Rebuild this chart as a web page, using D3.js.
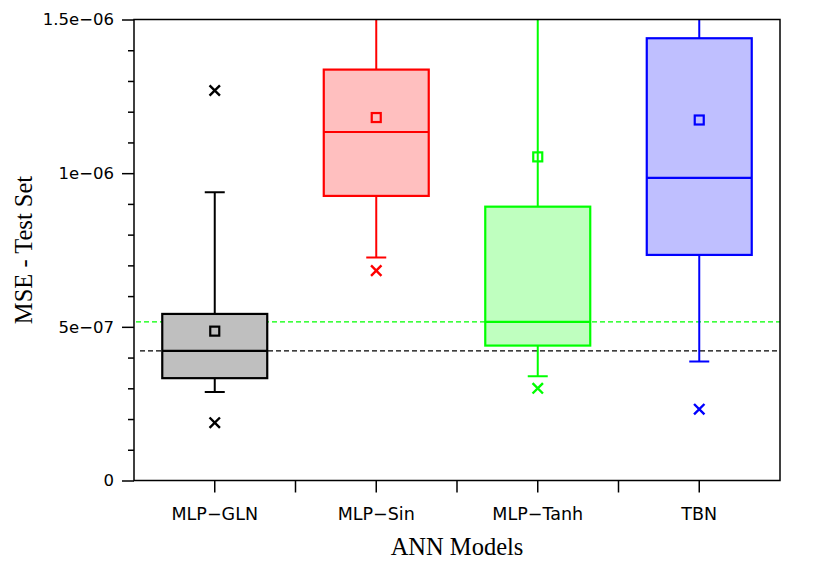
<!DOCTYPE html>
<html>
<head>
<meta charset="utf-8">
<script src="https://cdn.jsdelivr.net/npm/d3@7"></script>
<style>
  body { margin: 0; background: #fff; }
  svg { display: block; }
</style>
</head>
<body>
<svg id="viz" width="830" height="576"></svg>
<script>
// data
const models = ["MLP\u2212GLN", "MLP\u2212Sin", "MLP\u2212Tanh", "TBN"];
const q1 = [3.33e-7, 9.26e-7, 4.39e-7, 7.34e-7];
const medians = [4.22e-7, 11.34e-7, 5.16e-7, 9.85e-7];
const q3 = [5.42e-7, 13.37e-7, 8.91e-7, 14.39e-7];
const whiskLow = [2.88e-7, 7.26e-7, 3.39e-7, 3.87e-7];
const whiskHigh = [9.38e-7, 16.5e-7, 17.0e-7, 16.8e-7];
const means = [4.86e-7, 11.81e-7, 10.53e-7, 11.73e-7];
const outliers = [[1.88e-7, 12.69e-7], [6.83e-7], [3.00e-7], [2.32e-7]];
const refLines = [4.22e-7, 5.16e-7];
const yMajor = [0, 5e-7, 1e-6, 1.5e-6];
const yMajorLabels = ["0", "5e\u221207", "1e\u221206", "1.5e\u221206"];
const yMinor = [1e-7, 2e-7, 3e-7, 4e-7, 6e-7, 7e-7, 8e-7, 9e-7, 1.1e-6, 1.2e-6, 1.3e-6, 1.4e-6];

const strokeCols = ["#000000", "#ff0000", "#00ff00", "#0000ff"];
const fillCols = ["#bfbfbf", "#ffbfbf", "#bfffbf", "#bfbfff"];
const refCols = ["#000000", "#00ff00"];

const svg = d3.select("#viz");
const margin = { left: 134, right: 50, top: 19.5, bottom: 95.5 };
const width = 830, height = 576;
const iw = width - margin.left - margin.right;
const ih = height - margin.top - margin.bottom;

const x = d3.scaleBand().domain(models).range([0, iw]).padding(0);
const y = d3.scaleLinear().domain([0, 1.5e-6]).range([ih, 0]);

const g = svg.append("g").attr("transform", `translate(${margin.left},${margin.top})`);

svg.append("defs").append("clipPath").attr("id", "clip")
  .append("rect").attr("width", iw).attr("height", ih);

const plot = g.append("g").attr("clip-path", "url(#clip)");

// reference dashed lines
plot.selectAll("line.ref")
  .data(refLines)
  .enter()
  .append("line")
  .attr("class", "ref")
  .attr("x1", (d, i) => i === 0 ? 6 : 2)
  .attr("x2", iw)
  .attr("y1", d => y(d))
  .attr("y2", d => y(d))
  .attr("stroke", (d, i) => refCols[i])
  .attr("stroke-width", 1.3)
  .attr("stroke-dasharray", "5,3");

const boxW = x.bandwidth() * 0.65;
const capW = 20;

const boxes = plot.selectAll("g.box")
  .data(models)
  .enter()
  .append("g")
  .attr("class", "box")
  .attr("transform", d => `translate(${x(d) + x.bandwidth() / 2},0)`);

// whiskers
boxes.append("line")
  .attr("x1", 0).attr("x2", 0)
  .attr("y1", (d, i) => y(q3[i]))
  .attr("y2", (d, i) => y(whiskHigh[i]))
  .attr("stroke", (d, i) => strokeCols[i])
  .attr("stroke-width", 2);
boxes.append("line")
  .attr("x1", 0).attr("x2", 0)
  .attr("y1", (d, i) => y(q1[i]))
  .attr("y2", (d, i) => y(whiskLow[i]))
  .attr("stroke", (d, i) => strokeCols[i])
  .attr("stroke-width", 2);
boxes.append("line")
  .attr("x1", -capW / 2).attr("x2", capW / 2)
  .attr("y1", (d, i) => y(whiskLow[i]))
  .attr("y2", (d, i) => y(whiskLow[i]))
  .attr("stroke", (d, i) => strokeCols[i])
  .attr("stroke-width", 2);
boxes.append("line")
  .attr("x1", -capW / 2).attr("x2", capW / 2)
  .attr("y1", (d, i) => y(whiskHigh[i]))
  .attr("y2", (d, i) => y(whiskHigh[i]))
  .attr("stroke", (d, i) => strokeCols[i])
  .attr("stroke-width", 2);

// boxes
boxes.append("rect")
  .attr("x", -boxW / 2)
  .attr("width", boxW)
  .attr("y", (d, i) => y(q3[i]))
  .attr("height", (d, i) => y(q1[i]) - y(q3[i]))
  .attr("fill", (d, i) => fillCols[i])
  .attr("stroke", (d, i) => strokeCols[i])
  .attr("stroke-width", 2.2);

// medians
boxes.append("line")
  .attr("x1", -boxW / 2).attr("x2", boxW / 2)
  .attr("y1", (d, i) => y(medians[i]))
  .attr("y2", (d, i) => y(medians[i]))
  .attr("stroke", (d, i) => strokeCols[i])
  .attr("stroke-width", 2.2);

// means
boxes.append("rect")
  .attr("x", -4.5)
  .attr("y", (d, i) => y(means[i]) - 4.5)
  .attr("width", 9)
  .attr("height", 9)
  .attr("fill", "none")
  .attr("stroke", (d, i) => strokeCols[i])
  .attr("stroke-width", 2.2);

// outliers as crosses
boxes.each(function (d, i) {
  const s = 5.2;
  d3.select(this).selectAll("path.out")
    .data(outliers[i])
    .enter()
    .append("path")
    .attr("class", "out")
    .attr("d", v => `M${-s},${y(v) - s}L${s},${y(v) + s}M${-s},${y(v) + s}L${s},${y(v) - s}`)
    .attr("stroke", strokeCols[i])
    .attr("stroke-width", 2.4);
});

// frame
g.append("rect")
  .attr("width", iw)
  .attr("height", ih)
  .attr("fill", "none")
  .attr("stroke", "#000")
  .attr("stroke-width", 1.5);

// y axis
const yAxis = g.append("g")
  .call(d3.axisLeft(y).tickValues(yMajor).tickSize(12).tickPadding(8)
    .tickFormat((d, i) => yMajorLabels[i]));
const yMinorAxis = g.append("g")
  .call(d3.axisLeft(y).tickValues(yMinor).tickSize(6).tickFormat(""));
[yAxis, yMinorAxis].forEach(a => {
  a.select(".domain").remove();
  a.selectAll("line").attr("stroke", "#000").attr("stroke-width", 1.5);
});
yAxis.selectAll("text")
  .attr("font-family", "DejaVu Sans, sans-serif")
  .attr("font-size", 16.5)
  .attr("fill", "#000");

// x axis: ticks at centres and between categories
const xTicks = [];
models.forEach((m, i) => {
  xTicks.push(x(m) + x.bandwidth() / 2);
  if (i > 0) xTicks.push(x(m));
});
g.append("g")
  .attr("transform", `translate(0,${ih})`)
  .selectAll("line")
  .data(xTicks)
  .enter()
  .append("line")
  .attr("x1", d => d).attr("x2", d => d)
  .attr("y1", 0).attr("y2", 12)
  .attr("stroke", "#000")
  .attr("stroke-width", 1.5);

g.append("g")
  .selectAll("text")
  .data(models)
  .enter()
  .append("text")
  .attr("x", d => x(d) + x.bandwidth() / 2)
  .attr("y", ih + 39.5)
  .attr("text-anchor", "middle")
  .attr("font-family", "DejaVu Sans, sans-serif")
  .attr("font-size", 17.5)
  .text(d => d);

// axis titles
svg.append("text")
  .attr("x", margin.left + iw / 2)
  .attr("y", 555)
  .attr("text-anchor", "middle")
  .attr("font-family", "Liberation Serif, serif")
  .attr("font-size", 24.5)
  .text("ANN Models");

svg.append("text")
  .attr("transform", `translate(32,${margin.top + ih / 2}) rotate(-90)`)
  .attr("text-anchor", "middle")
  .attr("font-family", "Liberation Serif, serif")
  .attr("font-size", 24.5)
  .text("MSE - Test Set");
</script>
</body>
</html>
